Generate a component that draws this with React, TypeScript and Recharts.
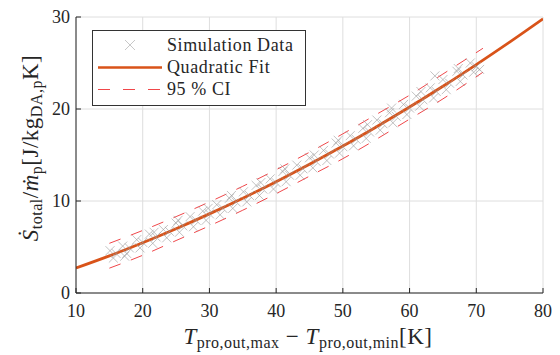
import React from 'react';
import { ComposedChart, Scatter, Line, XAxis, YAxis, CartesianGrid } from 'recharts';

const xTicks = [10, 20, 30, 40, 50, 60, 70, 80];
const yTicks = [0, 10, 20, 30];

// simulation points (clustered roughly every 2 K)
const simX = [
  15.1, 15.6, 16.0, 17.0, 17.6, 18.0, 17.3, 19.1, 19.6, 20.0,
  21.0, 21.5, 22.0, 21.7, 23.1, 23.6, 24.0, 25.0, 25.5, 26.0, 25.3,
  27.1, 27.6, 28.0, 29.0, 29.5, 30.0, 29.8, 31.1, 31.6, 32.0,
  33.0, 33.5, 34.0, 33.3, 35.1, 35.6, 36.0, 37.0, 37.5, 38.0, 37.7,
  39.1, 39.6, 40.0, 41.0, 41.5, 42.0, 41.3, 43.1, 43.6, 44.0,
  45.0, 45.5, 46.0, 45.7, 47.1, 47.6, 48.0, 49.0, 49.5, 50.0, 49.3,
  51.1, 51.6, 52.0, 53.0, 53.5, 54.0, 53.7, 55.1, 55.6, 56.0,
  57.0, 57.5, 58.0, 57.3, 59.1, 59.6, 60.0, 61.0, 61.5, 62.0, 61.7,
  63.1, 63.6, 64.0, 63.8, 65.0, 65.5, 66.0, 67.1, 67.6, 68.0, 67.3,
  69.1, 69.6, 70.0, 70.5,
];
const simY = [
  4.6, 3.8, 4.3, 5.1, 4.3, 4.9, 4.0, 5.8, 4.9, 5.5,
  6.4, 5.4, 6.1, 6.6, 6.9, 6.0, 6.7, 7.6, 6.6, 7.3, 7.9,
  8.3, 7.2, 7.9, 8.9, 7.9, 8.6, 9.2, 9.6, 8.5, 9.2,
  10.3, 9.2, 9.9, 10.6, 11.0, 9.9, 10.6, 11.7, 10.6, 11.3, 12.0,
  12.4, 11.3, 12.0, 13.2, 12.1, 12.8, 13.5, 13.9, 12.8, 13.5,
  14.7, 13.6, 14.3, 15.0, 15.5, 14.4, 15.1, 16.3, 15.2, 15.9, 16.6,
  17.1, 16.0, 16.7, 17.9, 16.8, 17.5, 18.3, 18.8, 17.7, 18.4,
  19.6, 18.5, 19.2, 20.1, 20.5, 19.4, 20.1, 21.4, 20.3, 21.0, 21.9,
  22.3, 21.2, 21.9, 23.6, 23.2, 22.1, 22.8, 24.1, 23.0, 23.7, 24.4,
  25.0, 24.0, 24.6, 24.3,
];

// quadratic fit
const fitX = [10, 15, 20, 25, 30, 35, 40, 45, 50, 55, 60, 65, 70, 75, 80];
const fitY = [2.72, 4.04, 5.47, 6.99, 8.6, 10.3, 12.1, 13.99, 15.97, 18.05, 20.21, 22.47, 24.83, 27.27, 29.8];

// 95 % confidence band
const ciX = [15, 20, 25, 30, 35, 40, 45, 50, 55, 60, 65, 71];
const ciUpper = [5.4, 6.8, 8.3, 9.9, 11.6, 13.4, 15.3, 17.3, 19.4, 21.5, 23.8, 26.6];
const ciLower = [2.7, 4.1, 5.7, 7.3, 9.0, 10.8, 12.7, 14.6, 16.7, 18.9, 21.1, 24.0];

const sim = simX.map((x, i) => ({ x, y: simY[i] }));
const fit = fitX.map((x, i) => ({ x, y: fitY[i] }));
const ciHi = ciX.map((x, i) => ({ x, y: ciUpper[i] }));
const ciLo = ciX.map((x, i) => ({ x, y: ciLower[i] }));

const FONT = '"Liberation Serif", "DejaVu Serif", serif';
const INK = '#262626';
const FIT = '#D95319';
const CI = '#F0474A';

const Cross = (p: any) => {
  const { cx, cy } = p;
  if (cx == null || cy == null) return null;
  const r = 4.5;
  return (
    <path
      d={`M${cx - r},${cy - r}L${cx + r},${cy + r}M${cx + r},${cy - r}L${cx - r},${cy + r}`}
      stroke="#999"
      strokeOpacity={0.6}
      strokeWidth={1}
      fill="none"
    />
  );
};

const XTick = (p: any) => (
  <g>
    <line x1={p.x} x2={p.x} y1={p.y} y2={p.y - 5} stroke={INK} />
    <text x={p.x} y={p.y + 24} textAnchor="middle" fontFamily={FONT} fontSize={18} fill={INK}>
      {p.payload.value}
    </text>
  </g>
);

const YTick = (p: any) => (
  <g>
    <line x1={p.x} x2={p.x + 5} y1={p.y} y2={p.y} stroke={INK} />
    <text x={p.x - 6} y={p.y + 6} textAnchor="end" fontFamily={FONT} fontSize={18} fill={INK}>
      {p.payload.value}
    </text>
  </g>
);

function Overlay() {
  return (
    <svg width={560} height={355} style={{ position: 'absolute', left: 0, top: 0, pointerEvents: 'none' }}>
      {/* legend */}
      <rect x={92.5} y={30.5} width={213} height={75} fill="#fff" stroke="#333" strokeWidth={1} />
      <path d="M125,40L135,50M135,40L125,50" stroke="#c8c8c8" strokeWidth={1} />
      <line x1={98} x2={162} y1={67.5} y2={67.5} stroke={FIT} strokeWidth={2.5} />
      <line x1={98} x2={162} y1={89.5} y2={89.5} stroke={CI} strokeWidth={1} strokeDasharray="12 13" />
      <g fontFamily={FONT} fontSize={18} fill={INK} letterSpacing={0.6}>
        <text x={167} y={51}>Simulation Data</text>
        <text x={167} y={73}>Quadratic Fit</text>
        <text x={167} y={95}>95 % CI</text>
      </g>
      {/* x label */}
      <text x={308} y={344} textAnchor="middle" fontFamily={FONT} fontSize={23} fill={INK} letterSpacing={0.5}>
        <tspan fontStyle="italic">T</tspan>
        <tspan fontSize={16} dy={4}>pro,out,max</tspan>
        <tspan dy={-4}> − </tspan>
        <tspan fontStyle="italic">T</tspan>
        <tspan fontSize={16} dy={4}>pro,out,min</tspan>
        <tspan dy={-4}>[K]</tspan>
      </text>
      {/* y label */}
      <text
        transform="translate(38,148) rotate(-90)"
        textAnchor="middle"
        fontFamily={FONT}
        fontSize={23}
        fill={INK}
        letterSpacing={0.5}
      >
        <tspan fontStyle="italic">Ṡ</tspan>
        <tspan fontSize={16} dy={4}>total</tspan>
        <tspan dy={-4}>/</tspan>
        <tspan fontStyle="italic">ṁ</tspan>
        <tspan fontSize={16} dy={4}>p</tspan>
        <tspan dy={-4}>[J/kg</tspan>
        <tspan fontSize={16} dy={4}>DA,p</tspan>
        <tspan dy={-4}>K]</tspan>
      </text>
    </svg>
  );
}

export default function App() {
  return (
    <div style={{ position: 'absolute', left: 0, top: 0, width: 560, height: 355, background: '#fff' }}>
      <ComposedChart width={560} height={355} margin={{ top: 17, right: 17, bottom: 0, left: 0 }}>
        <CartesianGrid stroke="#dedede" />
        <XAxis
          type="number"
          dataKey="x"
          domain={[10, 80]}
          ticks={xTicks}
          allowDataOverflow
          height={62}
          tickSize={0}
          tickMargin={0}
          tickLine={false}
          stroke={INK}
          tick={<XTick />}
        />
        <YAxis
          type="number"
          dataKey="y"
          domain={[0, 30]}
          ticks={yTicks}
          allowDataOverflow
          width={76}
          tickSize={0}
          tickMargin={0}
          tickLine={false}
          stroke={INK}
          tick={<YTick />}
        />
        <Scatter data={sim} dataKey="y" shape={<Cross />} isAnimationActive={false} />
        <Line data={fit} dataKey="y" type="monotone" stroke={FIT} strokeWidth={2.8} dot={false} isAnimationActive={false} />
        <Line data={ciHi} dataKey="y" type="monotone" stroke={CI} strokeWidth={1} strokeDasharray="12 11" dot={false} isAnimationActive={false} />
        <Line data={ciLo} dataKey="y" type="monotone" stroke={CI} strokeWidth={1} strokeDasharray="12 11" dot={false} isAnimationActive={false} />
      </ComposedChart>
      <Overlay />
    </div>
  );
}
